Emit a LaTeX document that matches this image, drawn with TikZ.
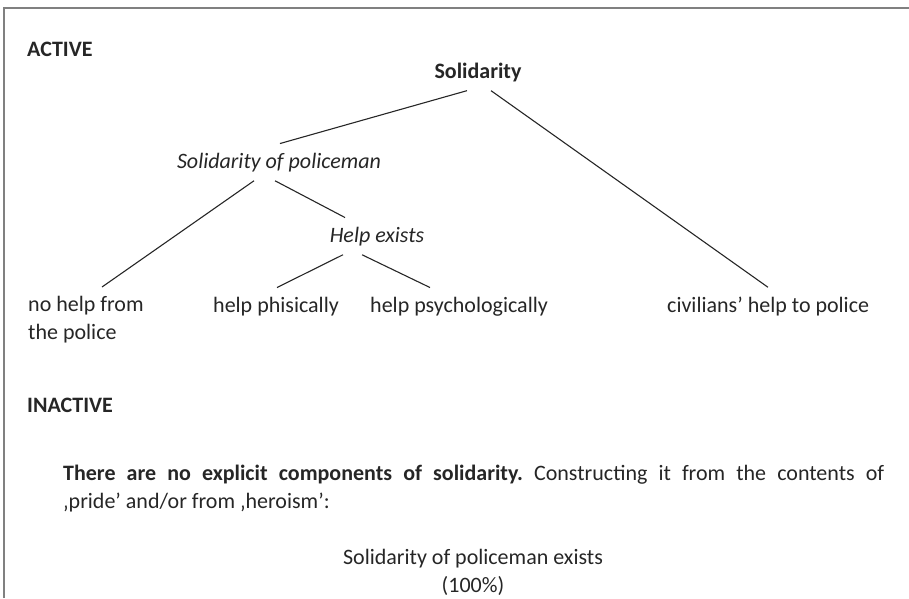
\documentclass[tikz,border=0pt]{standalone}
\usepackage{fontspec}
\setmainfont{Carlito}
\frenchspacing

\begin{document}
\begin{tikzpicture}[x=1pt,y=-1pt,
	every node/.style={font=\fontsize{22}{28}\selectfont, inner xsep=0pt, inner ysep=9pt, text=black!85},
	heading/.style={anchor=base west, font=\fontsize{22}{28}\selectfont\bfseries},
	leaf/.style={anchor=base west},
	branch/.style={line width=1.1pt, black!85}]
\useasboundingbox (0,0) rectangle (909,598);
\draw [gray, line width=1.5pt] (4,598)--(4,8)--(909,8);

\node[heading] (active) at (27,56) {ACTIVE};
\node[anchor=base, font=\fontsize{22}{28}\selectfont\bfseries] (sol) at (478,78) {Solidarity};
\node[anchor=base, font=\fontsize{22}{28}\selectfont\itshape] (sop) at (279,168) {Solidarity of policeman};
\node[anchor=base, font=\fontsize{22}{28}\selectfont\itshape] (help) at (377,242) {Help exists};
\node[anchor=north west, align=left] (nohelp) at (28,287) {no help from\\the police};
\node[leaf] (phis) at (213,312) {help phisically};
\node[leaf] (psy) at (370,312) {help psychologically};
\node[leaf] (civ) at (667,312) {civilians’ help to police};

\draw [branch] ([xshift=-11pt]sol.south)--([xshift=1pt]sop.north);
\draw [branch] ([xshift=13pt]sol.south)--([xshift=101pt]civ.north west);
\draw [branch] ([xshift=-25pt]sop.south)--([xshift=74pt]nohelp.north west);
\draw [branch] ([xshift=-4pt]sop.south)--([xshift=-32pt]help.north);
\draw [branch] ([xshift=-34pt]help.south)--([xshift=64pt]phis.north west);
\draw [branch] ([xshift=-15pt]help.south)--([xshift=60pt]psy.north west);

\node[heading] (inactive) at (27,412) {INACTIVE};
\node[anchor=north west, inner sep=0pt, text width=821pt, align=justify] (text) at (63,465)
	{\textbf{There are no explicit components of solidarity.} Constructing it from the contents of\linebreak
	‚pride’ and/or from ‚heroism’:};
\node[anchor=north, inner sep=0pt, align=center] (exists) at (473,549) {Solidarity of policeman exists\\(100\%)};
\end{tikzpicture}
\end{document}
